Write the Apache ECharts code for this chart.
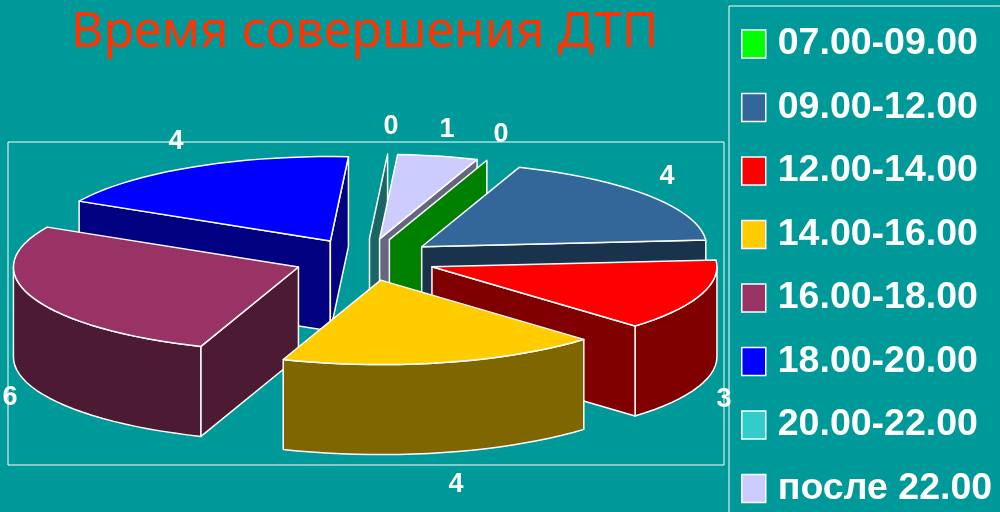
<!doctype html>
<html lang="ru">

<head>
    <title>Время совершения ДТП</title>
    <meta charset="utf-8">
    <script src="https://cdn.jsdelivr.net/npm/echarts@6/dist/echarts.min.js"></script>
    <style>
        html, body { margin: 0; background: #009999; }
        #main { width: 1000px; height: 512px; }
    </style>
</head>

<body>
<div id="main"></div>

<script>
    var categories = ['07.00-09.00', '09.00-12.00', '12.00-14.00', '14.00-16.00', '16.00-18.00', '18.00-20.00', '20.00-22.00', 'после 22.00'];
    var values = [0, 4, 3, 4, 6, 4, 0, 1];
    var topColors = ['#00ff00', '#336699', '#ff0000', '#ffcc00', '#993366', '#0000ff', '#33cccc', '#ccccff'];
    var wallColors = ['#008000', '#1a334d', '#800000', '#806600', '#4d1a33', '#000080', '#1a6666', '#666680'];
    // back to front, the slices are painted over each other in this order
    var paintOrder = [6, 7, 0, 1, 2, 5, 4, 3];
    // where the value labels sit, in pixels
    var labelSpots = [[501, 135], [667, 177], [724, 400], [456, 485], [10, 398], [176, 142], [391, 127], [447, 130]];

    // pie geometry: the axes map the unit circle onto the ellipse
    var CX = 365, CY = 259.5, RX = 285, RY = 84.5;
    var PLOT = { left: 8, top: 142, right: 724, bottom: 465 };
    var START = 20, EXPLODE = 0.25, DEPTH = 90;
    var EDGE = { stroke: '#fff', lineWidth: 1.5, lineJoin: 'round' };

    var total = values.reduce(function (a, b) { return a + b; }, 0);
    var spans = [];
    var acc = START;
    values.forEach(function (v) {
        var next = acc + v / total * 360;
        spans.push([acc, next]);
        acc = next;
    });

    function rad(d) { return d * Math.PI / 180; }

    function face(points, fill) {
        return {
            type: 'polygon',
            shape: { points: points },
            style: { fill: fill, stroke: EDGE.stroke, lineWidth: EDGE.lineWidth, lineJoin: EDGE.lineJoin }
        };
    }

    function down(p) { return [p[0], p[1] + DEPTH]; }

    function arcPoints(api, apex, from, to) {
        var pts = [];
        var n = Math.max(1, Math.ceil((to - from) / 3));
        for (var i = 0; i <= n; i++) {
            var a = rad(from + (to - from) * i / n);
            pts.push(api.coord([apex[0] + Math.sin(a), apex[1] + Math.cos(a)]));
        }
        return pts;
    }

    function drawSlice(i, api) {
        var a1 = spans[i][0], a2 = spans[i][1];
        var mid = rad((a1 + a2) / 2);
        var apex = [EXPLODE * Math.sin(mid), EXPLODE * Math.cos(mid)];
        var tip = api.coord(apex);
        var arc = arcPoints(api, apex, a1, a2);
        var children = [];

        // rounded outer wall, only the part that faces the viewer
        var f = Math.max(a1, 90), t = Math.min(a2, 270);
        if (t > f) {
            var upper = arcPoints(api, apex, f, t);
            children.push(face(upper.concat(upper.map(down).reverse()), wallColors[i]));
        }
        // flat walls
        if (Math.sin(rad(a1)) < 0) {
            var p1 = arc[0];
            children.push(face([tip, p1, down(p1), down(tip)], wallColors[i]));
        }
        if (Math.sin(rad(a2)) > 0) {
            var p2 = arc[arc.length - 1];
            children.push(face([tip, p2, down(p2), down(tip)], wallColors[i]));
        }
        if (values[i] > 0) {
            children.push(face([tip].concat(arc), topColors[i]));
        }
        children.push({
            type: 'text',
            style: {
                x: labelSpots[i][0],
                y: labelSpots[i][1],
                text: String(values[i]),
                fill: '#fff',
                font: 'bold 27px "Liberation Sans"',
                align: 'center',
                verticalAlign: 'middle'
            }
        });
        return { type: 'group', children: children };
    }

    var series = paintOrder.map(function (i, order) {
        return {
            name: categories[i],
            type: 'custom',
            coordinateSystem: 'cartesian2d',
            z: 2 + order,
            silent: true,
            itemStyle: { color: topColors[i] },
            data: [[values[i]]],
            renderItem: function (params, api) {
                return drawSlice(i, api);
            }
        };
    });

    echarts.init(document.getElementById('main')).setOption({
        animation: false,
        backgroundColor: '#009999',
        title: {
            text: 'Время совершения ДТП',
            left: 66,
            top: -2,
            textStyle: {
                color: '#ff3300',
                fontFamily: 'Noto Sans',
                fontWeight: 'normal',
                fontSize: 50,
                lineHeight: 60
            }
        },
        legend: {
            data: categories,
            orient: 'vertical',
            left: 729,
            top: 6,
            width: 300,
            height: 560,
            padding: [19, 40, 10, 12],
            borderColor: '#fff',
            borderWidth: 1,
            itemWidth: 24,
            itemHeight: 28,
            itemGap: 25.5,
            icon: 'rect',
            itemStyle: { borderColor: '#fff', borderWidth: 1.5 },
            selectedMode: false,
            textStyle: {
                color: '#fff',
                fontFamily: 'Liberation Sans',
                fontWeight: 'bold',
                fontSize: 37.5,
                padding: [0, 0, 0, 7]
            }
        },
        grid: {
            show: true,
            left: PLOT.left,
            top: PLOT.top,
            width: PLOT.right - PLOT.left,
            height: PLOT.bottom - PLOT.top,
            borderColor: '#fff',
            borderWidth: 1,
            backgroundColor: 'transparent'
        },
        xAxis: {
            type: 'value',
            show: false,
            min: (PLOT.left - CX) / RX,
            max: (PLOT.right - CX) / RX,
            splitLine: { show: false }
        },
        yAxis: {
            type: 'value',
            show: false,
            min: (CY - PLOT.bottom) / RY,
            max: (CY - PLOT.top) / RY,
            splitLine: { show: false }
        },
        series: series
    });
</script>
</body>

</html>
